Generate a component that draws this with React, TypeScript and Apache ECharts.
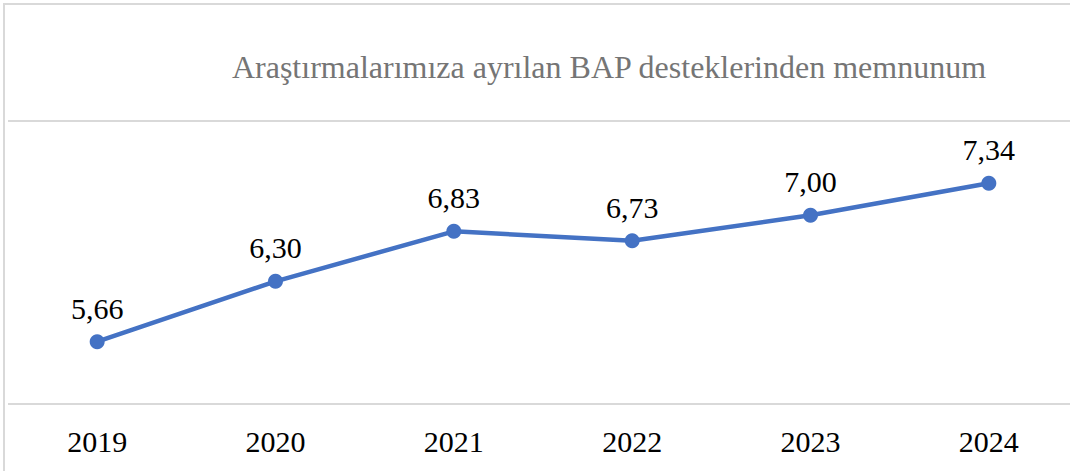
import React, { useEffect, useRef } from "react";
import * as echarts from "echarts";

const titleText = "Araştırmalarımıza ayrılan BAP desteklerinden memnunum";
const years = ["2019", "2020", "2021", "2022", "2023", "2024"];
const values = [5.66, 6.3, 6.83, 6.73, 7.0, 7.34];
const gridValues = [5, 8];

const SERIF = "Liberation Serif";

export default function App() {
  const ref = useRef<HTMLDivElement>(null);
  useEffect(() => {
    if (!ref.current) return;
    const chart = echarts.init(ref.current, undefined, { renderer: "svg" });
    chart.setOption({
      animation: false,
      backgroundColor: "#ffffff",
      textStyle: { fontFamily: SERIF },
      graphic: [
        {
          type: "rect",
          shape: { x: 4, y: 4, width: 1120, height: 520 },
          style: { fill: "none", stroke: "#d9d9d9", lineWidth: 2 },
          silent: true,
          z: -1,
        },
        {
          type: "text",
          x: 609,
          y: 67,
          style: {
            text: titleText,
            fill: "#757575",
            fontFamily: SERIF,
            fontSize: 32,
            textAlign: "center",
            textVerticalAlign: "middle",
          },
          silent: true,
        },
      ],
      grid: { left: 8, right: 12, top: 121, bottom: 67, containLabel: false },
      xAxis: {
        type: "category",
        data: years,
        boundaryGap: true,
        axisLine: { show: false },
        axisTick: { show: false },
        splitLine: { show: false },
        axisLabel: {
          color: "#000000",
          fontFamily: SERIF,
          fontSize: 30,
          margin: 22,
        },
      },
      yAxis: {
        type: "value",
        min: 5,
        max: 8,
        show: false,
        splitLine: { show: false },
      },
      series: [
        {
          type: "line",
          data: values,
          symbol: "circle",
          symbolSize: 15,
          itemStyle: { color: "#4472C4" },
          lineStyle: { color: "#4472C4", width: 4.5 },
          label: {
            show: true,
            position: "top",
            distance: 11,
            color: "#000000",
            fontFamily: SERIF,
            fontSize: 30,
            formatter: (p: any) => p.value.toFixed(2).replace(".", ","),
          },
          markLine: {
            silent: true,
            symbol: "none",
            label: { show: false },
            lineStyle: { color: "#d9d9d9", width: 2, type: "solid" },
            data: gridValues.map((v) => ({ yAxis: v })),
            z: -1,
          },
        },
      ],
    });
    return () => chart.dispose();
  }, []);
  return (
    <div
      style={{
        position: "fixed",
        left: 0,
        top: 0,
        width: 1070,
        height: 471,
        overflow: "hidden",
      }}
    >
      <div ref={ref} style={{ width: 1090, height: 471 }} />
    </div>
  );
}
